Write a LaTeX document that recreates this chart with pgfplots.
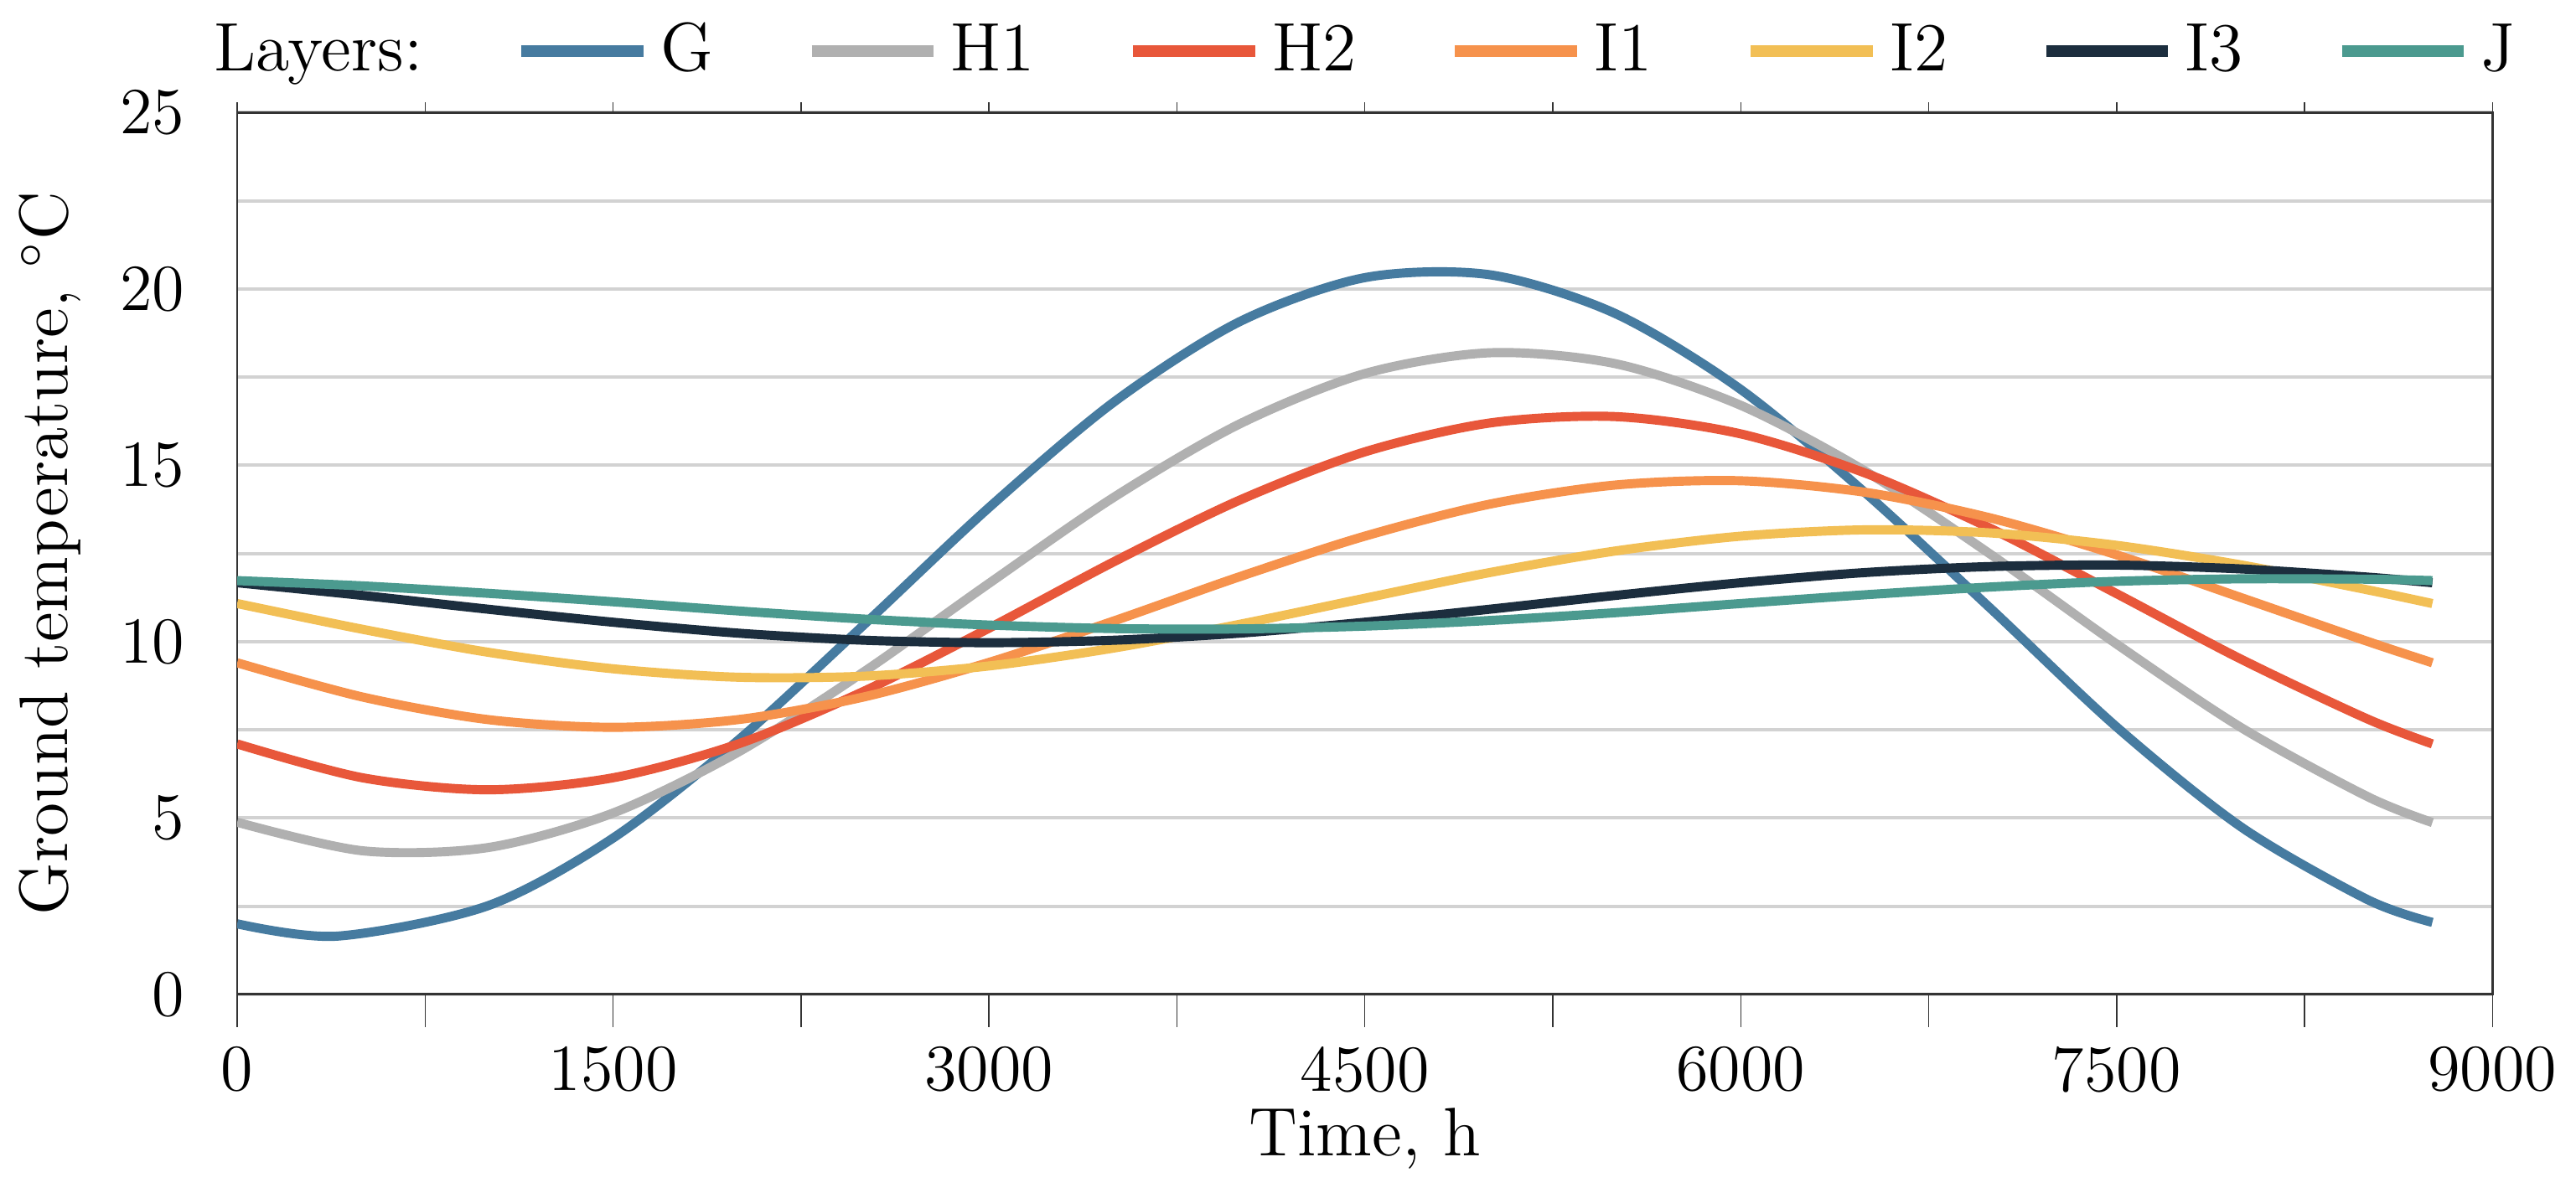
\documentclass[border=0pt]{standalone}
\usepackage{pgfplots}
\pgfplotsset{compat=1.18}
\definecolor{cG}{HTML}{467BA0}
\definecolor{cHa}{HTML}{B0B0B0}
\definecolor{cHb}{HTML}{E8573A}
\definecolor{cIa}{HTML}{F6924C}
\definecolor{cIb}{HTML}{F2BF55}
\definecolor{cIc}{HTML}{1C2E3E}
\definecolor{cJ}{HTML}{4B9A8F}
\begin{document}
\begin{tikzpicture}
\begin{axis}[
  scale only axis, width=138.6mm, height=54.2mm,
  xmin=0, xmax=9000, ymin=0, ymax=25,
  xtick={0,1500,...,9000}, minor xtick={750,2250,...,8250},
  ytick={0,5,...,25}, minor ytick={2.5,7.5,...,22.5},
  ymajorgrids, yminorgrids,
  grid style={gray!35, line width=0.6pt},
  minor grid style={gray!35, line width=0.6pt},
  axis line style={black!80},
  tick align=outside, tick style={black!80},
  major tick length=2mm, minor tick length=2mm,
  ytick style={draw=none},
  xticklabel style={/pgf/number format/set thousands separator={}},
  /pgf/number format/assume math mode=true,
  tick label style={font=\fontsize{11.5}{13}\selectfont},
  label style={font=\fontsize{12}{14}\selectfont},
  xlabel={Time, h}, ylabel={Ground temperature, $^\circ$C},
  xlabel style={yshift=1.5mm},
  legend columns=-1,
  legend style={at={(0.5,1.01)}, anchor=south, draw=none, font=\fontsize{12}{14}\selectfont,
    /tikz/every even column/.append style={column sep=5mm}},
  legend image post style={line width=2pt},
  legend image code/.code={\draw[#1] (0mm,0mm) -- (7.5mm,0mm);},
  every axis plot/.append style={line width=1.6pt, smooth, no markers},
]
\addlegendimage{empty legend}\addlegendentry{Layers:}
\addplot[cG] coordinates {(0,2.0)(400,1.65)(1000,2.51)(1500,4.43)(2000,7.21)(2500,10.47)(3000,13.8)(3500,16.8)(4000,19.07)(4500,20.32)(5000,20.4)(5500,19.3)(6000,17.15)(6500,14.2)(7000,10.92)(7500,7.58)(8000,4.73)(8500,2.69)(8760,2.04)};
\addlegendentry{G}
\addplot[cHa] coordinates {(0,4.88)(500,4.07)(1000,4.16)(1500,5.14)(2000,6.87)(2500,9.14)(3000,11.65)(3500,14.1)(4000,16.17)(4500,17.6)(5000,18.19)(5500,17.88)(6000,16.7)(6500,14.82)(7000,12.46)(7500,9.93)(8000,7.55)(8500,5.61)(8760,4.87)};
\addlegendentry{H1}
\addplot[cHb] coordinates {(0,7.1)(500,6.14)(1000,5.8)(1500,6.14)(2000,7.1)(2500,8.59)(3000,10.38)(3500,12.27)(4000,14.01)(4500,15.38)(5000,16.2)(5500,16.38)(6000,15.89)(6500,14.77)(7000,13.2)(7500,11.36)(8000,9.49)(8500,7.81)(8760,7.1)};
\addlegendentry{H2}
\addplot[cIa] coordinates {(0,9.4)(500,8.43)(1000,7.79)(1500,7.57)(2000,7.79)(2500,8.43)(3000,9.41)(3500,10.59)(4000,11.84)(4500,12.99)(5000,13.9)(5500,14.44)(6000,14.56)(6500,14.23)(7000,13.5)(7500,12.46)(8000,11.24)(8500,10.01)(8760,9.4)};
\addlegendentry{I1}
\addplot[cIb] coordinates {(0,11.08)(500,10.35)(1000,9.7)(1500,9.23)(2000,8.99)(2500,9.02)(3000,9.31)(3500,9.82)(4000,10.49)(4500,11.23)(5000,11.96)(5500,12.57)(6000,12.99)(6500,13.17)(7000,13.08)(7500,12.73)(8000,12.17)(8500,11.47)(8760,11.08)};
\addlegendentry{I2}
\addplot[cIc] coordinates {(0,11.67)(500,11.31)(1000,10.92)(1500,10.55)(2000,10.24)(2500,10.04)(3000,9.97)(3500,10.04)(4000,10.24)(4500,10.55)(5000,10.92)(5500,11.31)(6000,11.67)(6500,11.96)(7000,12.13)(7500,12.17)(8000,12.06)(8500,11.83)(8760,11.67)};
\addlegendentry{I3}
\addplot[cJ] coordinates {(0,11.73)(500,11.58)(1000,11.37)(1500,11.13)(2000,10.87)(2500,10.64)(3000,10.47)(3500,10.37)(4000,10.36)(4500,10.44)(5000,10.6)(5500,10.82)(6000,11.08)(6500,11.33)(7000,11.55)(7500,11.71)(8000,11.78)(8500,11.77)(8760,11.73)};
\addlegendentry{J}
\end{axis}
\end{tikzpicture}
\end{document}
